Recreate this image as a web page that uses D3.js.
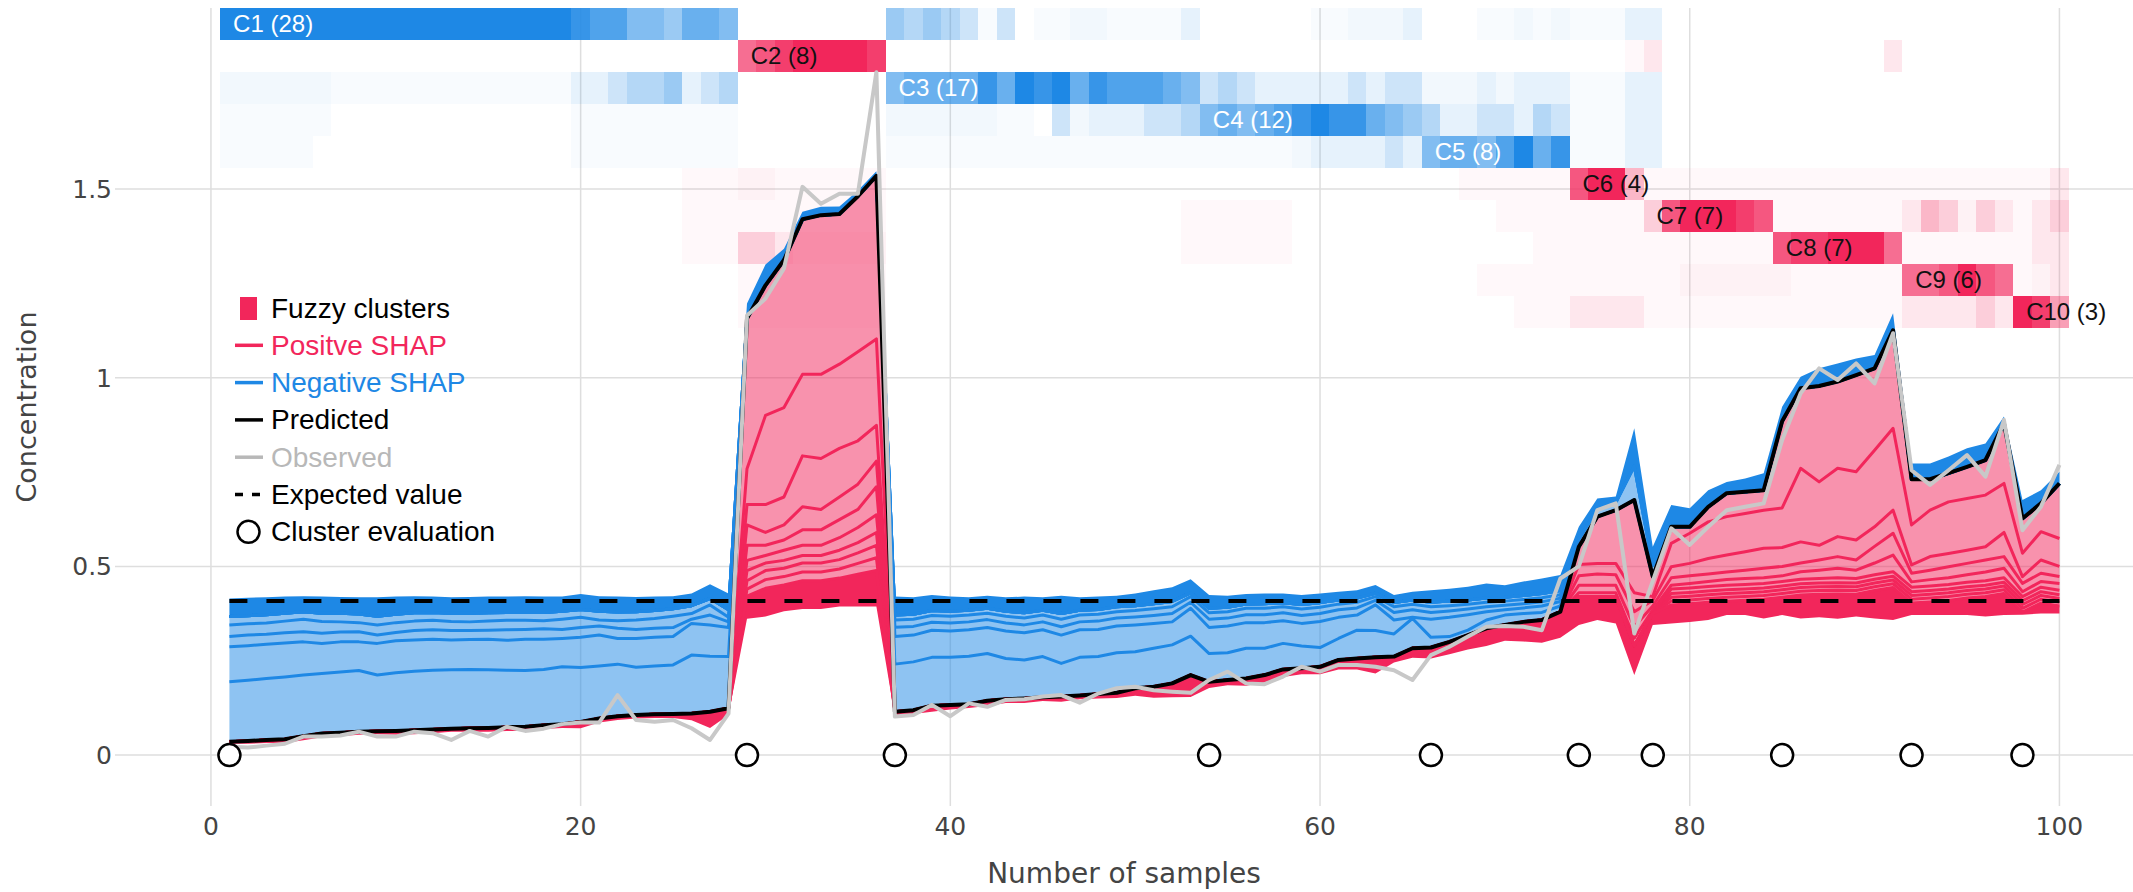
<!DOCTYPE html>
<html>
<head>
<meta charset="utf-8">
<script src="https://d3js.org/d3.v7.min.js"></script>
<style>
  body { margin: 0; background: #fff; }
  svg { display: block; }
</style>
</head>
<body>
<script>
// values (sample 1..100)
const expectedValue = 0.408;

const predicted = [
  .035,.037,.040,.042,.050,.057,.059,.062,.063,.064,
  .066,.068,.070,.071,.072,.074,.075,.079,.082,.088,
  .097,.103,.106,.108,.109,.110,.115,.124,1.157,1.245,
  1.312,1.420,1.431,1.434,1.481,1.535,.115,.119,.131,.133,
  .135,.144,.148,.150,.153,.155,.158,.162,.165,.177,
  .181,.190,.212,.194,.199,.203,.212,.227,.230,.234,
  .252,.256,.259,.261,.283,.285,.300,.318,.336,.345,
  .353,.358,.380,.552,.632,.649,.676,.473,.605,.605,
  .658,.694,.698,.702,.885,.972,.978,.990,1.007,1.025,
  1.126,.731,.731,.747,.764,.782,.879,.627,.667,.720];

const observed = [
  .022,.020,.025,.030,.049,.049,.052,.062,.049,.049,
  .062,.058,.040,.064,.049,.075,.064,.070,.082,.086,
  .086,.159,.093,.088,.093,.071,.040,.110,1.165,1.210,
  1.290,1.506,1.461,1.488,1.488,1.810,.102,.106,.133,.103,
  .137,.128,.146,.148,.155,.159,.139,.163,.177,.181,
  .172,.168,.165,.199,.221,.190,.188,.208,.234,.221,
  .239,.239,.234,.225,.199,.265,.287,.314,.340,.342,
  .340,.331,.468,.500,.649,.667,.322,.461,.601,.557,
  .605,.649,.658,.667,.835,.959,1.025,.994,1.038,.985,
  1.118,.755,.716,.755,.795,.738,.888,.596,.658,.769];

// SHAP values of the main features (signed)
const shapF1 = [
  -.159,-.161,-.163,-.165,-.162,-.159,-.161,-.162,-.149,-.154,
  -.156,-.157,-.156,-.156,-.154,-.151,-.149,-.148,-.152,-.144,
  -.139,-.138,-.127,-.128,-.130,-.155,-.147,-.137,.398,.345,
  .391,.411,.422,.398,.412,.432,-.126,-.128,-.128,-.126,
  -.127,-.125,-.108,-.102,-.108,-.088,-.101,-.099,-.106,-.097,
  -.102,-.102,-.103,-.075,-.072,-.080,-.071,-.069,-.059,-.051,
  -.057,-.075,-.071,-.060,-.079,-.027,-.014,-.013,-.022,-.026,
  -.022,-.020,-.015,.047,.124,.141,.246,.053,.044,.017,
  .040,.062,.058,.053,.230,.212,.254,.230,.256,.217,
  .260,.121,.082,.076,.084,.093,.159,.092,.075,.146];

const shapF2 = [
  -.093,-.092,-.091,-.090,-.088,-.080,-.080,-.076,-.084,-.085,
  -.083,-.082,-.079,-.079,-.081,-.079,-.083,-.080,-.075,-.080,
  -.082,-.068,-.076,-.076,-.075,-.084,-.083,-.077,.095,.236,
  .237,.216,.223,.223,.236,.229,-.073,-.071,-.072,-.070,
  -.070,-.069,-.073,-.072,-.071,-.075,-.073,-.072,-.071,-.071,
  -.066,-.061,-.074,-.069,-.071,-.068,-.068,-.060,-.060,-.069,
  -.056,-.040,-.068,-.037,-.003,-.048,-.051,-.041,-.022,-.014,
  -.015,-.017,-.012,.030,.028,.030,.050,.010,.062,.080,
  .097,.102,.101,.101,.105,.195,.168,.181,.181,.203,
  .217,.106,.123,.137,.137,.137,.130,.062,.075,.074];

const shapF3 = [
  -.027,-.028,-.026,-.027,-.027,-.027,-.026,-.027,-.022,-.022,
  -.025,-.025,-.025,-.024,-.024,-.028,-.026,-.028,-.024,-.026,
  -.024,-.027,-.024,-.024,-.024,-.011,-.026,-.015,.054,.074,
  .074,.135,.135,.129,.115,.095,-.025,-.023,-.021,-.021,
  -.021,-.021,-.021,-.021,-.021,-.022,-.021,-.022,-.021,-.021,
  -.021,-.022,-.016,-.022,-.021,-.021,-.021,-.021,-.021,-.021,
  -.020,-.019,-.012,-.020,-.020,-.018,-.017,-.015,-.013,-.012,
  -.011,-.011,-.009,.025,.030,.028,.040,.015,.029,.033,
  .041,.045,.049,.053,.050,.056,.039,.053,.053,.052,
  .061,.022,.036,.035,.035,.035,.064,.018,.035,.027];

const shapF4 = [
  -.031,-.030,-.030,-.031,-.033,-.031,-.027,-.024,-.027,-.026,
  -.025,-.025,-.024,-.023,-.024,-.025,-.024,-.021,-.027,-.027,
  -.016,-.020,-.025,-.026,-.030,-.015,-.027,-.012,.054,.034,
  .040,.061,.054,.060,.067,.068,-.019,-.019,-.018,-.018,
  -.018,-.017,-.018,-.018,-.018,-.020,-.018,-.018,-.017,-.017,
  -.018,-.018,-.015,-.017,-.017,-.017,-.017,-.016,-.017,-.017,
  -.015,-.015,-.010,-.015,-.015,-.015,-.014,-.013,-.012,-.011,
  -.011,-.011,-.009,.020,.020,.020,.030,.010,.020,.020,
  .020,.020,.022,.025,.025,.023,.027,.031,.027,.044,
  .058,.023,.025,.029,.030,.032,.031,.022,.022,.018];

const shapF5 = [
  -.022,-.021,-.022,-.021,-.020,-.022,-.023,-.023,-.023,-.022,
  -.022,-.021,-.022,-.023,-.022,-.021,-.021,-.022,-.021,-.021,
  -.023,-.023,-.022,-.021,-.020,-.021,-.017,-.020,.040,.027,
  .027,.041,.041,.048,.048,.074,-.013,-.013,-.013,-.013,
  -.013,-.013,-.013,-.014,-.013,-.015,-.013,-.013,-.013,-.013,
  -.013,-.014,-.010,-.012,-.012,-.011,-.012,-.011,-.012,-.012,
  -.011,-.011,-.009,-.011,-.011,-.012,-.012,-.011,-.011,-.010,
  -.011,-.011,-.011,.010,.010,.010,.020,.010,.010,.012,
  .013,.015,.016,.015,.015,.020,.022,.025,.022,.031,
  .044,.014,.017,.018,.020,.023,.025,.013,.015,.018];

const shapF6 = [
  0,0,0,0,0,0,0,0,0,0,
  0,0,0,0,0,0,0,0,0,0,
  0,0,0,0,0,0,0,0,.027,.020,
  .027,.027,.027,.033,.040,.047,0,0,0,0,
  0,0,0,0,0,0,0,0,0,0,
  0,0,0,0,0,0,0,0,0,0,
  0,0,0,0,0,0,0,0,0,0,
  0,0,0,0,0,0,0,0,.012,.012,
  .012,.012,.012,.012,.012,.012,.012,.013,.012,.012,
  .012,.012,.012,.012,.012,.012,.012,.011,.012,.012];

const shapF7 = [
  0,0,0,0,0,0,0,0,0,0,
  0,0,0,0,0,0,0,0,0,0,
  0,0,0,0,0,0,0,0,.027,.020,
  .021,.020,.020,.025,.027,.034,0,0,0,0,
  0,0,0,0,0,0,0,0,0,0,
  0,0,0,0,0,0,0,0,0,0,
  0,0,0,0,0,0,0,0,0,0,
  0,0,0,-.020,-.020,-.020,-.090,-.030,.010,.010,
  .010,.010,.010,.010,.010,.010,.010,.010,.010,.010,
  .010,.010,.010,.010,.010,.010,.010,.010,.010,.010];

const shapF8 = [
  0,0,0,0,0,0,0,0,0,0,
  0,0,0,0,0,0,0,0,0,0,
  0,0,0,0,0,0,0,0,.022,.024,
  .022,.024,.024,.025,.028,.033,0,0,0,0,
  0,0,0,0,0,0,0,0,0,0,
  0,0,0,0,0,0,0,0,0,0,
  0,0,0,0,0,0,0,0,0,0,
  0,0,0,0,0,0,0,0,.010,.010,
  .010,.010,.010,.010,.010,.010,.010,.010,.010,.010,
  .010,.010,.010,.010,.010,.010,.010,.010,.010,.010];

const shapF9 = [
  0,0,0,0,0,0,0,0,0,0,
  0,0,0,0,0,0,0,0,0,0,
  0,0,0,0,0,0,0,0,.019,.023,
  .022,.023,.023,.024,.029,.034,0,0,0,0,
  0,0,0,0,0,0,0,0,0,0,
  0,0,0,0,0,0,0,0,0,0,
  0,0,0,0,0,0,0,0,0,0,
  0,0,0,0,0,0,0,0,.010,.010,
  .010,.010,.010,.010,.010,.010,.010,.010,.010,.010,
  .010,.010,.010,.010,.010,.010,.010,.010,.010,.010];

// sum of the many small remaining contributions
const otherPos = [
  .005,.007,.008,.010,.011,.010,.009,.008,.008,.010,
  .011,.010,.008,.009,.010,.010,.011,.010,.010,.017,
  .011,.010,.009,.010,.011,.018,.043,.018,.060,.075,
  .070,.075,.075,.075,.085,.095,.012,.010,.016,.012,
  .010,.014,.010,.012,.010,.014,.010,.012,.014,.020,
  .029,.037,.058,.016,.014,.019,.020,.020,.016,.020,
  .025,.029,.043,.016,.025,.029,.033,.038,.047,.042,
  .052,.060,.069,.075,.062,.071,.078,.030,.049,.048,
  .047,.037,.039,.051,.047,.062,.061,.066,.059,.074,
  .086,.032,.035,.039,.045,.053,.057,.007,.028,.020];

const otherNeg = [
  -.048,-.048,-.046,-.044,-.041,-.044,-.043,-.044,-.050,-.047,
  -.044,-.042,-.042,-.043,-.043,-.042,-.043,-.042,-.039,-.041,
  -.040,-.041,-.039,-.037,-.033,-.032,-.038,-.043,-.040,-.055,
  -.030,-.020,-.022,-.020,-.015,-.012,-.049,-.045,-.041,-.039,
  -.034,-.033,-.037,-.043,-.034,-.047,-.034,-.034,-.029,-.032,
  -.036,-.038,-.036,-.035,-.030,-.027,-.027,-.024,-.025,-.024,
  -.022,-.021,-.022,-.020,-.022,-.032,-.033,-.035,-.039,-.032,
  -.037,-.040,-.041,-.033,-.028,-.016,-.100,-.049,-.058,-.049,
  -.044,-.030,-.035,-.045,-.038,-.031,-.047,-.048,-.044,-.035,
  -.045,-.042,-.042,-.044,-.049,-.044,-.018,-.049,-.035,-.031];

// fuzzy clusters
const clusterNames = ["C1","C2","C3","C4","C5","C6","C7","C8","C9","C10"];
const clusterSizes = [28, 8, 17, 12, 8, 4, 7, 7, 6, 3];
const clusterHue = ["blue","red","blue","blue","blue","red","red","red","red","red"];
// membership per sample: digit d -> d/9, 'a' -> 0.03, 'b' -> 0.06
const membership = [
  "9999999999 9999999998 7755466500 0000004343 2a20aabbaa aa1000000a abbb1000aa babaaa1100 0000000000 0000000000",
  "0000000000 0000000000 0000000067 8999980000 0000000000 0000000000 0000000000 000000a100 0000000000 1000000000",
  "bbbbbbaaaa aaaaaaaaa1 1233412300 0000005666 6869896877 7652321111 12122bbb1b 111aaa1100 0000000000 0000000000",
  "aaaaaa0000 000000000a aaaaaaaa00 000000bbbb bbaa02b111 2235656789 8865431122 132aaa1100 0000000000 0000000000",
  "aaaaa00000 000000000a aaaaaaaa00 000000aaaa aaaaaaaaaa aaaaaaaab1 1112156657 968aaa1100 0000000000 0000000000",
  "0000000000 0000000000 00000aaabb aaaaaa0000 0000000000 0000000000 0000000aaa aaa7993aaa aaaaaaaaaa aaaaaaaaa1",
  "0000000000 0000000000 00000aaaaa aaaaaa0000 0000000000 00aaaaaa00 000000000a aaaaaaa279 9987aaaaaa a132b21a12",
  "0000000000 0000000000 00000aaa22 1bbbbb0000 0000000000 00aaaaaa00 0000000000 0aaaaaaaaa aaaa788999 6aaaaaaa11",
  "0000000000 0000000000 00000000aa aaaaaa0000 0000000000 0000000000 00000000aa aaaaaaaaab bbbbbaaaaa a667976ab1",
  "0000000000 0000000000 00000000aa aaaaaa0000 0000000000 0000000000 0000000000 aaa1111aaa aaaaaaaaaa a111121984"
];

const xTicks = [0, 20, 40, 60, 80, 100];
const yTicks = [0, 0.5, 1, 1.5];
const heatTop = 1.98, heatBottom = 1.133;

const legendItems = [
  {label: "Fuzzy clusters", type: "rect", color: "#000"},
  {label: "Positve SHAP", type: "line", color: "#f2265b"},
  {label: "Negative SHAP", type: "line", color: "#1e88e5"},
  {label: "Predicted", type: "line", color: "#000"},
  {label: "Observed", type: "line", color: "#b8b8b8"},
  {label: "Expected value", type: "dash", color: "#000"},
  {label: "Cluster evaluation", type: "circle", color: "#000"}
];

// ---------- drawing ----------
const W = 2133, H = 892;
const BLUE = "#1e88e5", RED = "#f2265b";
const BLUE_FILL = "rgba(30,136,229,0.5)", RED_FILL = "rgba(242,38,91,0.5)";

const svg = d3.select("body").append("svg")
  .attr("width", W).attr("height", H);

const x = d3.scaleLinear().domain([-5.19, 103.98]).range([115, 2133]);
const y = d3.scaleLinear().domain([-0.135, 1.98]).range([806, 8]);

// grid
svg.append("g").selectAll("line").data(xTicks).join("line")
  .attr("x1", d => x(d)).attr("x2", d => x(d))
  .attr("y1", y(1.98)).attr("y2", y(-0.135))
  .attr("stroke", "#dedede").attr("stroke-width", 1.5);
svg.append("g").selectAll("line").data(yTicks).join("line")
  .attr("x1", x(-5.19)).attr("x2", x(103.98))
  .attr("y1", d => y(d)).attr("y2", d => y(d))
  .attr("stroke", "#dedede").attr("stroke-width", 1.5);

// heatmap of fuzzy memberships
const row = d3.scaleBand().domain(clusterNames).range([y(heatTop), y(heatBottom)]);
const level = c => c === "a" ? 0.03 : c === "b" ? 0.06 : (+c) / 9;
const firstSample = clusterSizes.map((s, k) => d3.sum(clusterSizes.slice(0, k)) + 1);

const heat = svg.append("g").attr("shape-rendering", "crispEdges");
membership.forEach((str, k) => {
  const vals = str.replace(/ /g, "").split("").map(level);
  heat.append("g").selectAll("rect").data(vals).join("rect")
    .attr("x", (d, i) => x(i + 0.5))
    .attr("width", (d, i) => x(i + 1.5) - x(i + 0.5))
    .attr("y", row(clusterNames[k]))
    .attr("height", row.bandwidth())
    .attr("fill", clusterHue[k] === "blue" ? BLUE : RED)
    .attr("fill-opacity", d => d);
});
svg.append("g").selectAll("text").data(clusterNames).join("text")
  .attr("x", (d, k) => x(firstSample[k] + 0.2))
  .attr("y", d => row(d) + row.bandwidth() / 2)
  .attr("dominant-baseline", "central")
  .attr("font-family", "Liberation Sans, Arial, sans-serif")
  .attr("font-size", 24)
  .attr("fill", (d, k) => clusterHue[k] === "blue" ? "#fff" : "#111")
  .text((d, k) => `${d} (${clusterSizes[k]})`);

// stacked SHAP contributions around the prediction
const n = predicted.length;
const idx = d3.range(n);
const feats = [shapF1, shapF2, shapF3, shapF4, shapF5, shapF6, shapF7, shapF8, shapF9];
const posTop = predicted.slice(), negBase = predicted.slice();
const posStack = [], negStack = [];
feats.forEach(f => {
  posStack.push(idx.map(i => {
    const hi = posTop[i];
    posTop[i] -= Math.max(0, f[i]);
    return [posTop[i], hi];
  }));
  negStack.push(idx.map(i => {
    const lo = negBase[i];
    negBase[i] += Math.max(0, -f[i]);
    return [lo, negBase[i]];
  }));
});
const posRest = idx.map(i => [posTop[i] - otherPos[i], posTop[i]]);
const negRest = idx.map(i => [negBase[i], negBase[i] - otherNeg[i]]);

const area = d3.area()
  .x((d, i) => x(i + 1)).y0(d => y(d[0])).y1(d => y(d[1]));
const lineLo = d3.line().x((d, i) => x(i + 1)).y(d => y(d[0]));
const lineHi = d3.line().x((d, i) => x(i + 1)).y(d => y(d[1]));

const shap = svg.append("g");
posStack.forEach(s => shap.append("path").attr("d", area(s)).attr("fill", RED_FILL));
shap.append("path").attr("d", area(posRest)).attr("fill", RED);
negStack.forEach(s => shap.append("path").attr("d", area(s)).attr("fill", BLUE_FILL));
shap.append("path").attr("d", area(negRest)).attr("fill", BLUE);
posStack.forEach(s => shap.append("path").attr("d", lineLo(s))
  .attr("fill", "none").attr("stroke", RED).attr("stroke-width", 3).attr("stroke-linejoin", "round"));
negStack.forEach(s => shap.append("path").attr("d", lineHi(s))
  .attr("fill", "none").attr("stroke", BLUE).attr("stroke-width", 3).attr("stroke-linejoin", "round"));

// predicted / observed
const valLine = d3.line().x((d, i) => x(i + 1)).y(d => y(d));
svg.append("path").attr("d", valLine(predicted))
  .attr("fill", "none").attr("stroke", "#000").attr("stroke-width", 4).attr("stroke-linejoin", "round");
svg.append("path").attr("d", valLine(observed))
  .attr("fill", "none").attr("stroke", "#c8c8c8").attr("stroke-width", 4).attr("stroke-linejoin", "round");

// expected value
svg.append("line")
  .attr("x1", x(1)).attr("x2", x(n)).attr("y1", y(expectedValue)).attr("y2", y(expectedValue))
  .attr("stroke", "#000").attr("stroke-width", 4).attr("stroke-dasharray", "18,19");

// cluster evaluation markers
svg.append("g").selectAll("circle").data(firstSample).join("circle")
  .attr("cx", d => x(d)).attr("cy", y(0)).attr("r", 11)
  .attr("fill", "#fff").attr("stroke", "#000").attr("stroke-width", 2.5);

// axes text
const tickFont = "DejaVu Sans, Verdana, sans-serif";
svg.append("g").selectAll("text").data(xTicks).join("text")
  .attr("x", d => x(d)).attr("y", 835)
  .attr("text-anchor", "middle").attr("font-family", tickFont).attr("font-size", 25).attr("fill", "#444")
  .text(d => d);
svg.append("g").selectAll("text").data(yTicks).join("text")
  .attr("x", 112).attr("y", d => y(d) + 9)
  .attr("text-anchor", "end").attr("font-family", tickFont).attr("font-size", 25).attr("fill", "#444")
  .text(d => d);
svg.append("text").attr("x", 1124).attr("y", 883)
  .attr("text-anchor", "middle").attr("font-family", tickFont).attr("font-size", 28).attr("fill", "#444")
  .text("Number of samples");
svg.append("text").attr("transform", "translate(36,407) rotate(-90)")
  .attr("text-anchor", "middle").attr("font-family", tickFont).attr("font-size", 27).attr("fill", "#444")
  .text("Concentration");

// legend
const lg = svg.append("g").attr("transform", "translate(0,308)");
legendItems.forEach((it, i) => {
  const g = lg.append("g").attr("transform", `translate(0,${i * 37.3})`);
  if (it.type === "rect") {
    g.append("rect").attr("x", 240).attr("y", -11).attr("width", 17).attr("height", 23).attr("fill", RED);
  } else if (it.type === "line") {
    g.append("line").attr("x1", 235).attr("x2", 263).attr("y1", 0).attr("y2", 0)
      .attr("stroke", it.color).attr("stroke-width", 3.5);
  } else if (it.type === "dash") {
    g.append("line").attr("x1", 235).attr("x2", 262).attr("y1", 0).attr("y2", 0)
      .attr("stroke", "#000").attr("stroke-width", 3.5).attr("stroke-dasharray", "8,9");
  } else {
    g.append("circle").attr("cx", 248.5).attr("cy", 0).attr("r", 11)
      .attr("fill", "#fff").attr("stroke", "#000").attr("stroke-width", 2.5);
  }
  g.append("text").attr("x", 271).attr("y", 0).attr("dominant-baseline", "central")
    .attr("font-family", "Liberation Sans, Arial, sans-serif").attr("font-size", 28)
    .attr("fill", it.color).text(it.label);
});
</script>
</body>
</html>
